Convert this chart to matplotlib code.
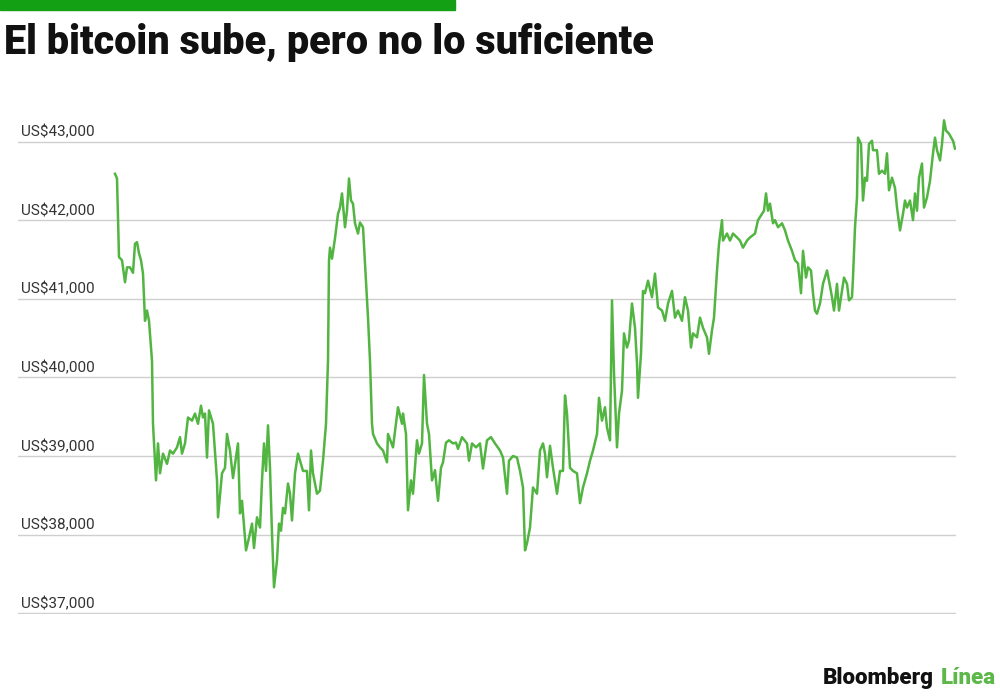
import matplotlib
matplotlib.use("Agg")
import matplotlib.pyplot as plt
from matplotlib.patches import Rectangle

# precio del bitcoin, aprox. una semana (horas desde el inicio)
horas = [0, 0.4, 0.8, 1.4, 2, 2.4, 3, 3.6, 4, 4.4, 4.8, 5.2, 5.6, 6, 6.4, 6.8, 7.4, 7.6, 8.2, 8.6,
         9, 9.6, 10.4, 11, 11.6, 12.4, 13, 13.4, 14, 14.6, 15.4, 16, 16.6, 17.2, 17.6, 18, 18.4, 18.8,
         19.6, 20.4, 20.6, 21.4, 22, 22.4, 23, 23.6, 24.6, 25, 25.4, 26.2, 26.8, 27.4, 27.8, 28.4,
         29, 29.4, 29.8, 30.2, 30.6, 31, 31.4, 31.8, 32.4, 32.8, 33.2, 33.6, 34, 34.6, 35, 35.4,
         36, 36.6, 37.2, 37.6, 38.4, 38.8, 39.2, 39.6, 40.4, 41, 41.6, 42.2, 42.6, 42.8, 43, 43.4,
         44, 44.6, 45, 45.4, 46, 46.4, 46.8, 47.2, 47.6, 48, 48.6, 49, 49.6, 50.4, 50.6, 51, 51.4,
         51.6, 52.4, 53, 53.6, 54.4, 54.6, 55.6, 56.6, 57.4, 57.6, 58.2, 58.6, 59.2, 59.6, 60.4,
         60.8, 61.4, 61.8, 62.4, 62.8, 63.4, 64, 64.6, 65.2, 65.6, 66.2, 66.8, 67.6, 68.2, 68.6,
         69.4, 70.4, 70.8, 71.4, 72.2, 73, 73.6, 74.4, 75.2, 76, 77, 77.6, 78.4, 78.8, 79.6, 80.4,
         81, 81.6, 82, 82.4, 83, 83.6, 84.4, 85, 85.6, 86, 86.4, 87, 87.6, 88.4, 89, 89.6, 90,
         90.4, 91, 91.6, 92.4, 93, 93.6, 94.4, 95, 95.6, 96.4, 96.8, 97.4, 98, 98.4, 99, 99.4,
         99.8, 100.4, 100.8, 101.4, 101.8, 102.4, 102.8, 103.4, 104, 104.4, 104.6, 105.2, 105.6,
         106, 106.6, 107.4, 108, 108.6, 109.4, 110, 110.6, 111.4, 112, 112.6, 113.4, 114, 114.6,
         115.2, 115.6, 116.4, 117, 117.6, 118.4, 118.8, 119.4, 119.8, 120.4, 120.8, 121.4, 121.6,
         122.4, 123, 123.6, 124.4, 125, 125.6, 126.4, 127, 128, 128.6, 129.4, 129.8, 130.2, 130.6,
         131, 131.6, 132, 132.6, 133.4, 134, 134.6, 135.4, 136, 136.6, 137.2, 137.6, 138.2, 138.6,
         139.2, 139.6, 140, 140.4, 141, 141.6, 142.4, 142.8, 143.4, 143.8, 144.4, 144.8, 145.4,
         145.8, 146.4, 146.8, 147.4, 147.6, 148, 148.4, 148.6, 149.2, 149.6, 150, 150.4, 150.8,
         151.4, 151.6, 152.4, 152.8, 153.4, 154, 154.4, 154.8, 155.4, 156, 156.4, 157, 157.6, 158,
         158.4, 159, 159.6, 160, 160.4, 160.8, 161.4, 161.8, 162.4, 163, 163.6, 164, 164.4, 165,
         165.4, 165.8, 166.2, 166.8, 167.6, 168]

precio = [42590, 42530, 41530, 41490, 41210, 41400, 41400, 41330, 41700, 41720, 41580, 41490, 41320,
          40720, 40850, 40720, 40210, 39410, 38690, 39160, 38780, 39030, 38900, 39070, 39030, 39110,
          39240, 39030, 39160, 39490, 39450, 39540, 39410, 39640, 39490, 39540, 38980, 39580, 39410,
          38690, 38220, 38780, 38850, 39280, 39070, 38720, 39160, 38270, 38430, 37800, 37960, 38140,
          37830, 38220, 38090, 38690, 39160, 38810, 39390, 38850, 38010, 37330, 37670, 38140, 38050,
          38340, 38270, 38650, 38520, 38180, 38780, 39030, 38900, 38810, 38810, 38310, 39070, 38780,
          38520, 38560, 38940, 39410, 40210, 41490, 41650, 41510, 41770, 42080, 42160, 42340, 41910,
          42120, 42530, 42250, 42210, 41960, 41830, 41970, 41910, 40980, 40760, 40210, 39410, 39280,
          39160, 39110, 39070, 38920, 39280, 39110, 39620, 39410, 39540, 39280, 38310, 38690, 38520,
          39200, 39030, 39160, 40030, 39410, 39280, 38690, 38820, 38430, 38850, 38920, 39170, 39200,
          39160, 39170, 39090, 39240, 39160, 38940, 39160, 39110, 39160, 38840, 39200, 39240, 39160,
          39070, 38980, 38520, 38940, 39000, 38980, 38810, 38600, 37800, 37890, 38090, 38600, 38520,
          39070, 39160, 39030, 38730, 39130, 38850, 38520, 38810, 38810, 39770, 39540, 38850, 38810,
          38780, 38400, 38600, 38780, 38940, 39070, 39280, 39740, 39450, 39620, 39360, 39200, 40980,
          40050, 39110, 39540, 39830, 40560, 40380, 40470, 40940, 40630, 40180, 39740, 40300, 41100,
          41070, 41230, 41020, 41320, 40890, 40850, 40720, 40940, 41100, 40760, 40850, 40720, 41020,
          40850, 40380, 40560, 40510, 40760, 40630, 40510, 40300, 40600, 40760, 41360, 41700, 42000,
          41740, 41830, 41740, 41830, 41780, 41740, 41650, 41740, 41780, 41830, 42000, 42080, 42120,
          42340, 42120, 42210, 41960, 42000, 41910, 41960, 41870, 41740, 41610, 41490, 41450, 41070,
          41610, 41270, 41400, 41360, 41070, 40850, 40810, 40940, 41190, 41360, 41230, 41020, 40850,
          41190, 40850, 41100, 41270, 41190, 40980, 41020, 41270, 41910, 42290, 43050, 42970, 42250,
          42540, 42500, 42970, 43010, 42890, 42890, 42590, 42630, 42590, 42850, 42380, 42540, 42410,
          42160, 41870, 42080, 42250, 42160, 42250, 42000, 42340, 42120, 42540, 42720, 42160, 42290,
          42500, 42850, 43050, 42890, 42760, 42970, 43270, 43140, 43100, 43010, 42910]

niveles = [37000, 38000, 39000, 40000, 41000, 42000, 43000]
etiquetas = ["US$37,000", "US$38,000", "US$39,000", "US$40,000",
             "US$41,000", "US$42,000", "US$43,000"]

titulo = "El bitcoin sube, pero no lo suficiente"
verde_linea = "#52b542"
verde_barra = "#14a014"

fig = plt.figure(figsize=(10, 6.96), dpi=100)
ax = fig.add_axes([0.018, 0.1178, 0.938, 0.724])

for n in niveles:
    ax.axhline(n, color="#cfcfcf", lw=1, zorder=1)
for n, et in zip(niveles, etiquetas):
    ax.annotate(et, xy=(0, n), xycoords=("axes fraction", "data"),
                xytext=(2, 1.5), textcoords="offset points",
                ha="left", va="bottom", fontsize=11, color="#333333", family="Roboto")

ax.plot(horas, precio, color=verde_linea, lw=1.8, zorder=3)
ax.set_xlim(-19.4, 168.2)
ax.set_ylim(36990, 43400)
ax.axis("off")

# barra verde superior
fig.patches.append(Rectangle((0, 1 - 10 / 696), 0.455, 10 / 696, transform=fig.transFigure,
                             color=verde_barra, zorder=5))

fig.text(0.004, 1 - 43 / 696, titulo, fontsize=28.5, fontweight="heavy", color="#111111",
         family="Roboto", va="center", ha="left")

t1 = fig.text(0.823, 1 - 678 / 696, "Bloomberg", fontsize=16, fontweight="heavy",
              color="#111111", family="Roboto", va="center", ha="left")
fig.canvas.draw()
bb = t1.get_window_extent()
fig.text(bb.x1 / 1000 + 0.007, 1 - 678 / 696, "Línea", fontsize=16, fontweight="heavy",
         color="#5cb848", family="Roboto", va="center", ha="left")

fig.savefig("out.png", dpi=100)
